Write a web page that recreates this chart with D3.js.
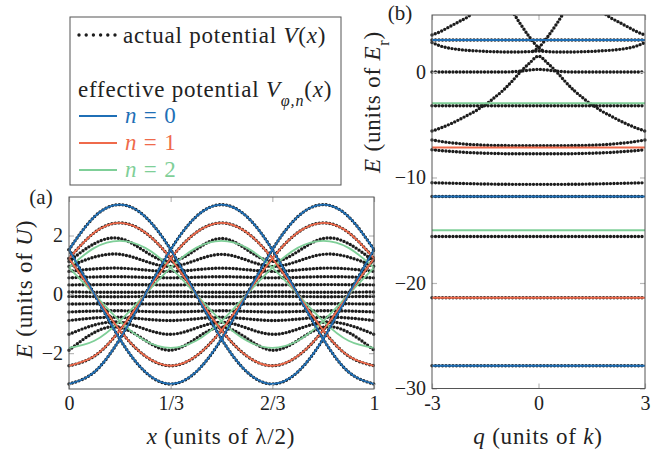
<!DOCTYPE html>
<html><head><meta charset="utf-8">
<script src="https://cdn.jsdelivr.net/npm/d3@7"></script>
<style>
body{margin:0;background:#fff;}
</style></head><body>
<svg id="c" width="668" height="454"></svg>
<script>
// ================= DATA =================
// Panel (a): axis ticks
const xTicksA = [0, 1/3, 2/3, 1];
const xTickLabelsA = ["0", "1/3", "2/3", "1"];
const yTicksA = [-2, 0, 2];
const yTickLabelsA = ["\u22122", "0", "2"];

// Panel (a): effective potential, one well (peak at x = 1/6), sampled at x = k/12, k = 0..11 (period 1)
const xTwelfths = [0, 1/12, 2/12, 3/12, 4/12, 5/12, 6/12, 7/12, 8/12, 9/12, 10/12, 11/12, 1];
const effN0 = [1.52, 2.64, 3.05, 2.64, 1.52, 0, -1.52, -2.64, -3.05, -2.64, -1.52, 0];
const effN1 = [1.22, 2.10, 2.43, 2.10, 1.22, 0, -1.22, -2.10, -2.43, -2.10, -1.22, 0];
const effN2 = [0.91, 1.58, 1.82, 1.58, 0.91, 0, -0.91, -1.58, -1.82, -1.58, -0.91, 0];
const wellShifts = [0, 4, 8];            // wells centred at x = 1/6, 1/2, 5/6 (shift in twelfths)

// Panel (a): actual potential bands between the wells (period 1/3):
// value at x = 1/6 + k/3 (crest) and at x = k/3 (dip)
const xSixths = [0, 1/6, 2/6, 3/6, 4/6, 5/6, 1];
const midCrest = [1.90, 1.36, 0.89, 0.60, 0.33, 0.07, -0.08, -0.32, -0.56, -0.78, -0.95, -1.12];
const midDip   = [1.12, 0.95, 0.78, 0.56, 0.32, 0.08, -0.07, -0.33, -0.60, -0.89, -1.36, -1.90];

// Panel (b)
const qTicksB = [-3, 0, 3];
const qTickLabelsB = ["-3", "0", "3"];
const yTicksB = [-30, -20, -10, 0];
const yTickLabelsB = ["\u221230", "\u221220", "\u221210", "0"];
const qGrid = [-3,-2.75,-2.5,-2.25,-2,-1.75,-1.5,-1.25,-1,-0.75,-0.5,-0.25,0,0.25,0.5,0.75,1,1.25,1.5,1.75,2,2.25,2.5,2.75,3];
const bandTwo   = [2.8,2.45,2.25,2.13,2.05,2.0,1.95,1.92,1.9,1.9,1.9,1.93,1.98,1.93,1.9,1.9,1.9,1.92,1.95,2.0,2.05,2.13,2.25,2.45,2.8];
const bandZero  = [0,0,0,0,0,0,0,0,0,0.02,0.08,0.18,0.25,0.18,0.08,0.02,0,0,0,0,0,0,0,0,0];
const bandSixA  = [-6.45,-6.58,-6.7,-6.78,-6.85,-6.9,-6.94,-6.96,-6.97,-6.98,-6.98,-6.98,-6.98,-6.98,-6.98,-6.98,-6.97,-6.96,-6.94,-6.9,-6.85,-6.78,-6.7,-6.58,-6.45];
const bandSevenB= [-7.37,-7.45,-7.52,-7.58,-7.63,-7.67,-7.7,-7.72,-7.74,-7.75,-7.75,-7.75,-7.75,-7.75,-7.75,-7.75,-7.74,-7.72,-7.7,-7.67,-7.63,-7.58,-7.52,-7.45,-7.37];
const bandTen   = [-10.5,-10.52,-10.54,-10.56,-10.58,-10.6,-10.62,-10.63,-10.64,-10.65,-10.65,-10.65,-10.65,-10.65,-10.65,-10.65,-10.64,-10.63,-10.62,-10.6,-10.58,-10.56,-10.54,-10.52,-10.5];
const flatBandsB = [3.03, -3.2, -11.8, -15.6, -21.4, -27.85];
const topLeftQ = [-3,-2.75,-2.5,-2.25,-2,-1.9],   topLeftE = [3.5,3.85,4.3,4.75,5.2,5.45];
const topRightQ = [1.9,2,2.25,2.5,2.75,3],       topRightE = [5.45,5.2,4.75,4.3,3.85,3.5];
const crossLQ = [-0.68,-0.5,-0.25,0,0.15],        crossLE = [5.45,4.5,3.3,2.3,1.98];
const crossRQ = [-0.15,0,0.25,0.5,0.68],          crossRE = [1.98,2.3,3.3,4.5,5.45];
const domeQ = [-1.58,-1.5,-1.25,-1,-0.75,-0.5,-0.25,0,0.25,0.5,0.75,1,1.25,1.5,1.58];
const domeE = [-3.2,-3.1,-2.45,-1.75,-0.9,0.05,0.85,1.5,0.85,0.05,-0.9,-1.75,-2.45,-3.1,-3.2];
const lowLQ = [-3,-2.75,-2.5,-2.25,-2,-1.75,-1.58], lowLE = [-5.6,-5.3,-4.95,-4.55,-4.1,-3.65,-3.25];
const lowRQ = [1.58,1.75,2,2.25,2.5,2.75,3],        lowRE = [-3.25,-3.65,-4.1,-4.55,-4.95,-5.3,-5.6];
// effective potential levels in (b): [energy, n]
const effLevelsB = [[3.03,0],[-2.97,2],[-7.17,1],[-11.8,0],[-15.0,2],[-21.4,1],[-27.85,0]];

const colors = ["#1f6fb6", "#ef6a4b", "#7fcf98"];
const dotColor = "#1c1c1c";
const SERIF = '"Liberation Serif","DejaVu Serif",serif';
const FS = 23, LS = "0.8px", TICKFS = "20px";

// ================= DRAW =================
const svg = d3.select("#c");

function dotted(g, pts, curve, gap){
  g.append("path").attr("d", d3.line().curve(curve)(pts))
   .attr("fill","none").attr("stroke",dotColor).attr("stroke-width",3.4)
   .attr("stroke-linecap","round").attr("stroke-dasharray","0," + (gap || 3.5));
}
function solid(g, pts, curve, col, w){
  g.append("path").attr("d", d3.line().curve(curve)(pts))
   .attr("fill","none").attr("stroke",col).attr("stroke-width",w||1.8);
}
function frameAndTicks(g, x, y, xt, xl, yt, yl, W, H){
  const tc = "#b8b8b8";
  const ax = g.append("g").attr("transform",`translate(0,${H})`)
    .call(d3.axisBottom(x).tickValues(xt).tickFormat((d,i)=>xl[i]).tickSizeInner(-5).tickSizeOuter(0).tickPadding(7));
  const axT = g.append("g").call(d3.axisTop(x).tickValues(xt).tickFormat("").tickSizeInner(-5).tickSizeOuter(0));
  const ay = g.append("g").call(d3.axisLeft(y).tickValues(yt).tickFormat((d,i)=>yl[i]).tickSizeInner(-5).tickSizeOuter(0).tickPadding(6));
  const ayR = g.append("g").attr("transform",`translate(${W},0)`)
    .call(d3.axisRight(y).tickValues(yt).tickFormat("").tickSizeInner(-5).tickSizeOuter(0));
  [ax,axT,ay,ayR].forEach(a=>{
    a.attr("font-family", SERIF);
    a.select(".domain").remove();
    a.selectAll("line").attr("stroke",tc).attr("stroke-width",1.2);
    a.selectAll("text").style("font-size",TICKFS).style("font-family",SERIF).attr("fill","#222");
  });
  g.append("rect").attr("width",W).attr("height",H).attr("fill","none").attr("stroke","#555").attr("stroke-width",1);
}

// ---------- Panel (a) ----------
const A = {l:69, t:197, w:305, h:192};
const gA = svg.append("g").attr("transform",`translate(${A.l},${A.t})`);
const xA = d3.scaleLinear().domain([0,1]).range([0,A.w]);
const yA = d3.scaleLinear().domain([-3.22,3.31]).range([A.h,0]);
gA.append("clipPath").attr("id","clipA").append("rect").attr("x",-2).attr("y",-1).attr("width",A.w+4).attr("height",A.h+2);
const pA = gA.append("g").attr("clip-path","url(#clipA)");

function wellSeries(base, s){
  return xTwelfths.map((xv,k)=>[xA(xv), yA(base[((k - s) % 12 + 12) % 12])]);
}
midCrest.forEach((c,i)=>{
  const pts = xSixths.map((xv,k)=>[xA(xv), yA(k%2===1 ? c : midDip[i])]);
  dotted(pA, pts, d3.curveNatural);
});
[effN0, effN1].forEach(base=>{
  wellShifts.forEach(s=> dotted(pA, wellSeries(base,s), d3.curveNatural));
});
[effN2, effN1, effN0].forEach((base,j)=>{
  const col = colors[2-j];
  wellShifts.forEach(s=> solid(pA, wellSeries(base,s), d3.curveNatural, col, 1.8));
});
frameAndTicks(gA, xA, yA, xTicksA, xTickLabelsA, yTicksA, yTickLabelsA, A.w, A.h);

// ---------- Panel (b) ----------
const B = {l:432, t:15, w:213, h:373.5};
const gB = svg.append("g").attr("transform",`translate(${B.l},${B.t})`);
const xB = d3.scaleLinear().domain([-3,3]).range([0,B.w]);
const yB = d3.scaleLinear().domain([-30,5.4]).range([B.h,0]);
gB.append("clipPath").attr("id","clipB").append("rect").attr("x",-2).attr("y",0).attr("width",B.w+4).attr("height",B.h);
const pB = gB.append("g").attr("clip-path","url(#clipB)");
const mono = d3.curveMonotoneX;
[bandTwo, bandZero, bandSixA, bandSevenB, bandTen].forEach(b=>{
  dotted(pB, qGrid.map((q,i)=>[xB(q), yB(b[i])]), mono);
});
flatBandsB.forEach(e=> dotted(pB, [[xB(-3),yB(e)],[xB(3),yB(e)]], d3.curveLinear));
[[topLeftQ,topLeftE],[topRightQ,topRightE],[crossLQ,crossLE],[crossRQ,crossRE],[domeQ,domeE],[lowLQ,lowLE],[lowRQ,lowRE]].forEach(([qs,es])=>{
  dotted(pB, qs.map((q,i)=>[xB(q), yB(es[i])]), d3.curveMonotoneX);
});
effLevelsB.forEach(([e,n])=> solid(pB, [[xB(-3),yB(e)],[xB(3),yB(e)]], d3.curveLinear, colors[n], 2));
frameAndTicks(gB, xB, yB, qTicksB, qTickLabelsB, yTicksB, yTickLabelsB, B.w, B.h);

// ---------- Axis titles ----------
function title(x, y, rot, parts){
  const t = svg.append("text").attr("text-anchor","middle").style("font-size",FS+"px").style("font-family",SERIF)
    .style("letter-spacing",LS).attr("fill","#222")
    .attr("transform",`translate(${x},${y}) rotate(${rot})`);
  parts.forEach(p=>{
    const ts = t.append("tspan").text(p[0]);
    if (p[1]) ts.style("font-style","italic");
    if (p[2]) ts.attr("baseline-shift", p[2]).style("font-size", (FS*0.7)+"px");
  });
}
title(221, 444, 0, [["x",1],[" (units of \u03bb/2)"]]);
title(538, 444, 0, [["q",1],[" (units of "],["k",1],[")"]]);
title(32, 289, -90, [["E",1],[" (units of "],["U",1],[")"]]);
title(380, 102, -90, [["E",1],[" (units of "],["E",1],["r",0,"sub"],[")"]]);

svg.append("text").attr("x",41).attr("y",204).attr("text-anchor","middle").style("font-size","21px").style("font-family",SERIF).attr("fill","#222").text("(a)");
svg.append("text").attr("x",400).attr("y",20).attr("text-anchor","middle").style("font-size","21px").style("font-family",SERIF).attr("fill","#222").text("(b)");

// ---------- Legend ----------
const L = svg.append("g");
L.append("rect").attr("x",70).attr("y",17).attr("width",271).attr("height",168)
  .attr("fill","#fff").attr("stroke","#555").attr("stroke-width",1);
dotted(L, [[79,35],[115,35]], d3.curveLinear, 7.2);
const lt = (x,y,parts,col)=>{
  const t = L.append("text").attr("x",x).attr("y",y).style("font-size",FS+"px").style("font-family",SERIF)
    .style("letter-spacing",LS).attr("fill", col || "#222");
  parts.forEach(p=>{
    const ts = t.append("tspan").text(p[0]);
    if (p[1]) ts.style("font-style","italic");
    if (p[2]) ts.attr("baseline-shift",p[2]).style("font-size",(FS*0.7)+"px");
  });
};
lt(123, 43, [["actual potential "],["V",1],["("],["x",1],[")"]]);
lt(78, 97, [["effective potential "],["V",1],["\u03c6,n",1,"sub"],["("],["x",1],[")"]]);
const nLabels = ["0","1","2"];
const legendRowsY = [116, 143, 170];
nLabels.forEach((lab,i)=>{
  L.append("line").attr("x1",79).attr("x2",117).attr("y1",legendRowsY[i]).attr("y2",legendRowsY[i])
    .attr("stroke",colors[i]).attr("stroke-width",1.8);
  lt(125, legendRowsY[i]+7, [["n",1],[" = "+lab]], colors[i]);
});
</script>
</body></html>
